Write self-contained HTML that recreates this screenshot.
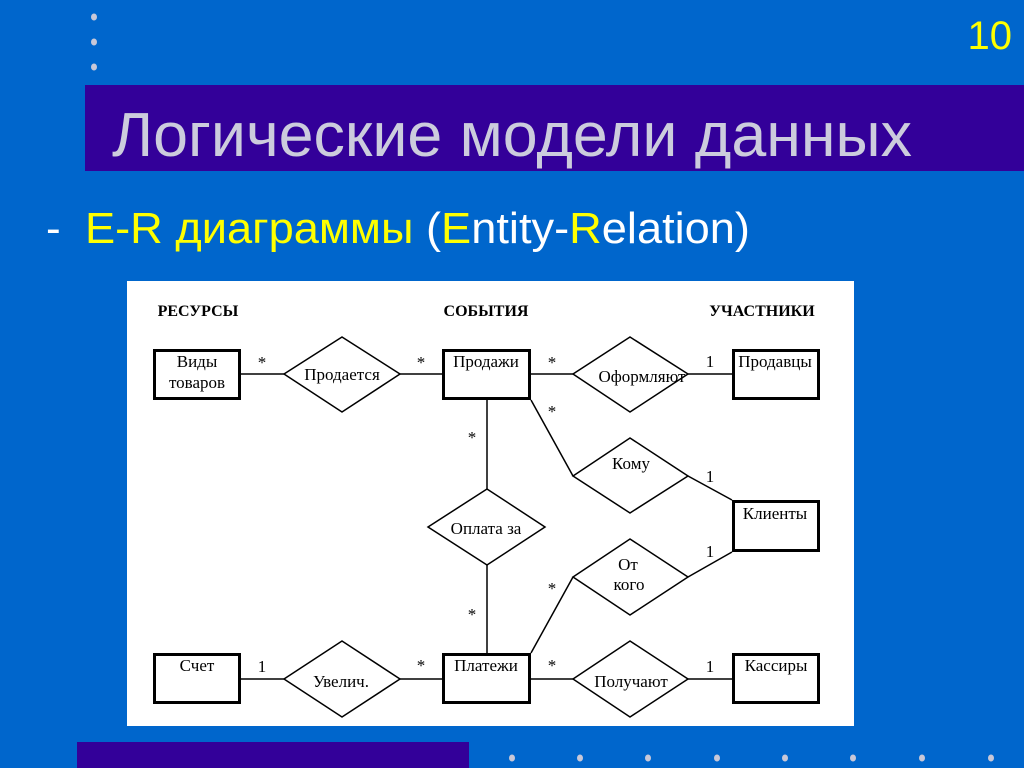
<!DOCTYPE html>
<html>
<head>
<meta charset="utf-8">
<style>
  html, body { margin:0; padding:0; width:1024px; height:768px; overflow:hidden; background:#0066cc; }
  svg { display:block; }
  .t { font-family: "Liberation Serif", "DejaVu Serif", serif; font-size:17px; fill:#000; }
  .h { font-family: "Liberation Serif", "DejaVu Serif", serif; font-size:16px; font-weight:bold; fill:#000; }
  .s { font-family: "Liberation Sans", "DejaVu Sans", sans-serif; }
</style>
</head>
<body>
<svg width="1024" height="768" viewBox="0 0 1024 768" xmlns="http://www.w3.org/2000/svg">
  <rect x="0" y="0" width="1024" height="768" fill="#0066cc"/>

  <!-- top-left dots -->
  <ellipse cx="94" cy="17" rx="3" ry="3.5" fill="#c8c8d8"/>
  <ellipse cx="94" cy="42" rx="3" ry="3.5" fill="#c8c8d8"/>
  <ellipse cx="94" cy="67" rx="3" ry="3.5" fill="#c8c8d8"/>

  <!-- page number -->
  <text x="1012" y="49" text-anchor="end" class="s" font-size="40" fill="#ffff00">10</text>

  <!-- title bar -->
  <rect x="85" y="85" width="939" height="86" fill="#330099"/>
  <text x="112" y="156" class="s" font-size="62" fill="#ccccdd" textLength="800" lengthAdjust="spacingAndGlyphs">Логические модели данных</text>

  <!-- subtitle -->
  <text x="46" y="243" class="s" font-size="44" fill="#ffffff">-</text>
  <text x="85" y="243" class="s" font-size="44" textLength="665" lengthAdjust="spacingAndGlyphs"><tspan fill="#ffff00">E-R диаграммы </tspan><tspan fill="#ffffff">(</tspan><tspan fill="#ffff00">E</tspan><tspan fill="#ffffff">ntity-</tspan><tspan fill="#ffff00">R</tspan><tspan fill="#ffffff">elation)</tspan></text>

  <!-- diagram panel -->
  <rect x="127" y="281" width="727" height="445" fill="#ffffff"/>

  <!-- headers -->
  <text x="198" y="316" text-anchor="middle" class="h">РЕСУРСЫ</text>
  <text x="486" y="316" text-anchor="middle" class="h">СОБЫТИЯ</text>
  <text x="762" y="316" text-anchor="middle" class="h">УЧАСТНИКИ</text>

  <!-- connectors -->
  <g stroke="#000" stroke-width="1.5" fill="none">
    <line x1="241" y1="374" x2="284" y2="374"/>
    <line x1="400" y1="374" x2="442" y2="374"/>
    <line x1="531" y1="374" x2="573" y2="374"/>
    <line x1="688" y1="374" x2="732" y2="374"/>
    <line x1="487" y1="400" x2="487" y2="489"/>
    <line x1="531" y1="400" x2="573" y2="476"/>
    <line x1="688" y1="476" x2="732" y2="500"/>
    <line x1="487" y1="565" x2="487" y2="653"/>
    <line x1="531" y1="653" x2="573" y2="577"/>
    <line x1="688" y1="577" x2="732" y2="552"/>
    <line x1="241" y1="679" x2="284" y2="679"/>
    <line x1="400" y1="679" x2="442" y2="679"/>
    <line x1="531" y1="679" x2="573" y2="679"/>
    <line x1="688" y1="679" x2="732" y2="679"/>
  </g>

  <!-- diamonds -->
  <g stroke="#000" stroke-width="1.5" fill="#fff">
    <polygon points="284,374 342,337 400,374 342,412"/>
    <polygon points="573,374 630,337 688,374 630,412"/>
    <polygon points="573,476 630,438 688,476 630,513"/>
    <polygon points="428,527 487,489 545,527 487,565"/>
    <polygon points="573,577 630,539 688,577 630,615"/>
    <polygon points="284,679 342,641 400,679 342,717"/>
    <polygon points="573,679 630,641 688,679 630,717"/>
  </g>

  <!-- entity boxes -->
  <g stroke="#000" stroke-width="3" fill="#fff">
    <rect x="154.5" y="350.5" width="85" height="48"/>
    <rect x="443.5" y="350.5" width="86" height="48"/>
    <rect x="733.5" y="350.5" width="85" height="48"/>
    <rect x="733.5" y="501.5" width="85" height="49"/>
    <rect x="154.5" y="654.5" width="85" height="48"/>
    <rect x="443.5" y="654.5" width="86" height="48"/>
    <rect x="733.5" y="654.5" width="85" height="48"/>
  </g>

  <!-- entity labels -->
  <g class="t" text-anchor="middle">
    <text x="197" y="367">Виды</text>
    <text x="197" y="388">товаров</text>
    <text x="486" y="367">Продажи</text>
    <text x="775" y="367">Продавцы</text>
    <text x="775" y="519">Клиенты</text>
    <text x="197" y="671">Счет</text>
    <text x="486" y="671">Платежи</text>
    <text x="776" y="671">Кассиры</text>
  </g>

  <!-- relationship labels -->
  <g class="t" text-anchor="middle">
    <text x="342" y="380">Продается</text>
    <text x="642" y="382">Оформляют</text>
    <text x="631" y="469">Кому</text>
    <text x="486" y="534">Оплата за</text>
    <text x="628" y="570">От</text>
    <text x="629" y="590">кого</text>
    <text x="341" y="687">Увелич.</text>
    <text x="631" y="687">Получают</text>
  </g>

  <!-- cardinalities -->
  <g class="t" text-anchor="middle" font-size="16">
    <text x="262" y="368">*</text>
    <text x="421" y="368">*</text>
    <text x="552" y="368">*</text>
    <text x="710" y="367">1</text>
    <text x="552" y="417">*</text>
    <text x="472" y="443">*</text>
    <text x="710" y="482">1</text>
    <text x="710" y="557">1</text>
    <text x="552" y="594">*</text>
    <text x="472" y="620">*</text>
    <text x="262" y="672">1</text>
    <text x="421" y="671">*</text>
    <text x="552" y="671">*</text>
    <text x="710" y="672">1</text>
  </g>

  <!-- bottom bar -->
  <rect x="77" y="742" width="392" height="26" fill="#330099"/>
  <g fill="#c8c8d8">
    <ellipse cx="512" cy="758" rx="3" ry="3.5"/>
    <ellipse cx="580" cy="758" rx="3" ry="3.5"/>
    <ellipse cx="648" cy="758" rx="3" ry="3.5"/>
    <ellipse cx="717" cy="758" rx="3" ry="3.5"/>
    <ellipse cx="785" cy="758" rx="3" ry="3.5"/>
    <ellipse cx="853" cy="758" rx="3" ry="3.5"/>
    <ellipse cx="922" cy="758" rx="3" ry="3.5"/>
    <ellipse cx="991" cy="758" rx="3" ry="3.5"/>
  </g>
</svg>
</body>
</html>
